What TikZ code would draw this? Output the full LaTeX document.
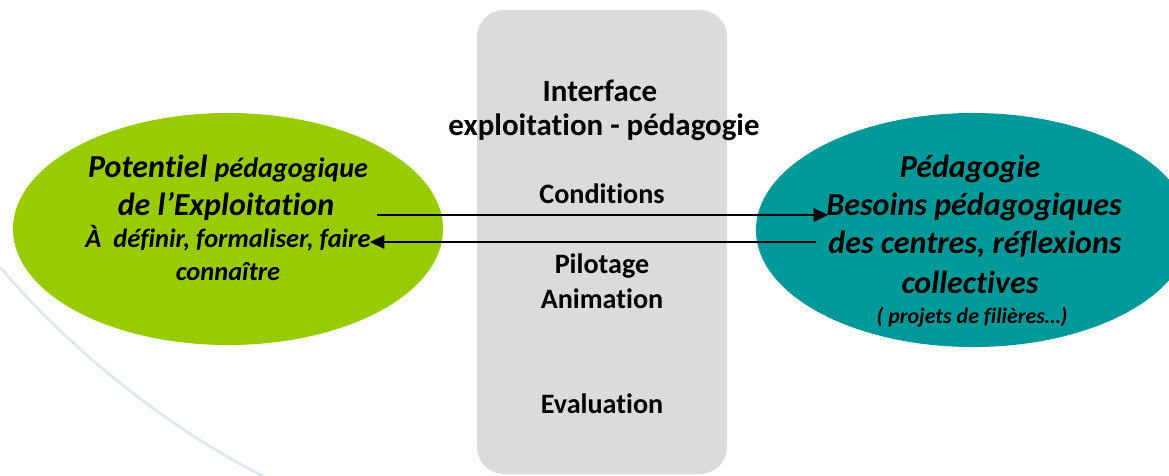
\documentclass[tikz,border=0pt]{standalone}
\usepackage{fontspec}
\setmainfont{Carlito}[Ligatures={NoCommon}]
\usetikzlibrary{shapes.geometric,arrows.meta}

\definecolor{leafgreen}{RGB}{153,204,0}
\definecolor{seateal}{RGB}{0,153,153}
\definecolor{panelgray}{RGB}{219,219,219}
\definecolor{swoosh}{RGB}{222,232,238}

\begin{document}
\begin{tikzpicture}[
  x=0.025cm, y=-0.025cm,
  panel/.style={rectangle, rounded corners=0.68cm, fill=panelgray, minimum width=6.25cm, minimum height=11.6cm},
  blob/.style={ellipse, minimum width=10.75cm, minimum height=5.8cm},
  mid/.style={anchor=base, inner sep=0pt, font=\bfseries\fontsize{20}{24}\selectfont},
  midbig/.style={mid, font=\bfseries\fontsize{22}{26}\selectfont},
  big/.style={anchor=base, inner sep=0pt, font=\bfseries\itshape\fontsize{22.8}{27}\selectfont},
  small/.style={anchor=base, inner sep=0pt, font=\bfseries\itshape\fontsize{18.8}{22}\selectfont},
  tiny/.style={anchor=base, inner sep=0pt, font=\bfseries\itshape\fontsize{15.6}{19}\selectfont},
  link/.style={-{Triangle[length=0.36cm,width=0.34cm]}, line width=1pt}
]
\useasboundingbox (0,0) rectangle (1169,475);
\clip (0,0) rectangle (1169,475);

% background swoosh
\draw[swoosh, line width=2pt] (0,267) .. controls (70,350) and (170,430) .. (267,478);

% shapes
\node[panel] (iface) at (602,242) {};
\node[blob, fill=leafgreen] (expl) at (228,229) {};
\node[blob, fill=seateal, minimum width=10.85cm, minimum height=5.85cm] (peda) at (973,230) {};

% middle column
\node[midbig] (title1) at (600,101) {Interface};
\node[midbig] (title2) at (604,135) {exploitation - pédagogie};
\node[mid] (cond) at (602,203) {Conditions};
\node[mid] (pilot) at (602,273) {Pilotage};
\node[mid] (anim) at (602,308) {Animation};
\node[mid] (eval) at (602,413) {Evaluation};

% left ellipse
\node[big] (potent) at (228,177) {Potentiel {\fontsize{20}{24}\selectfont pédagogique}};
\node[big] (exploit) at (226,215) {de l’Exploitation};
\node[small] (definir) at (228,247) {À\ \ définir, formaliser, faire};
\node[small] (connait) at (228,280) {connaître};

% right ellipse
\node[big] (pedag) at (970,177) {Pédagogie};
\node[big] (besoins) at (974,215) {Besoins pédagogiques};
\node[big] (centres) at (975,253) {des centres, réflexions};
\node[big] (collect) at (970,293) {collectives};
\node[tiny] (projets) at (972,323) {( projets de filières…)};

% connectors
\coordinate (fromexpl) at (377,215);
\coordinate (topeda) at (828,215);
\coordinate (frompeda) at (816,242);
\coordinate (toexpl) at (370,242);
\draw[link] (fromexpl) -- (topeda);
\draw[link] (frompeda) -- (toexpl);
\end{tikzpicture}
\end{document}
